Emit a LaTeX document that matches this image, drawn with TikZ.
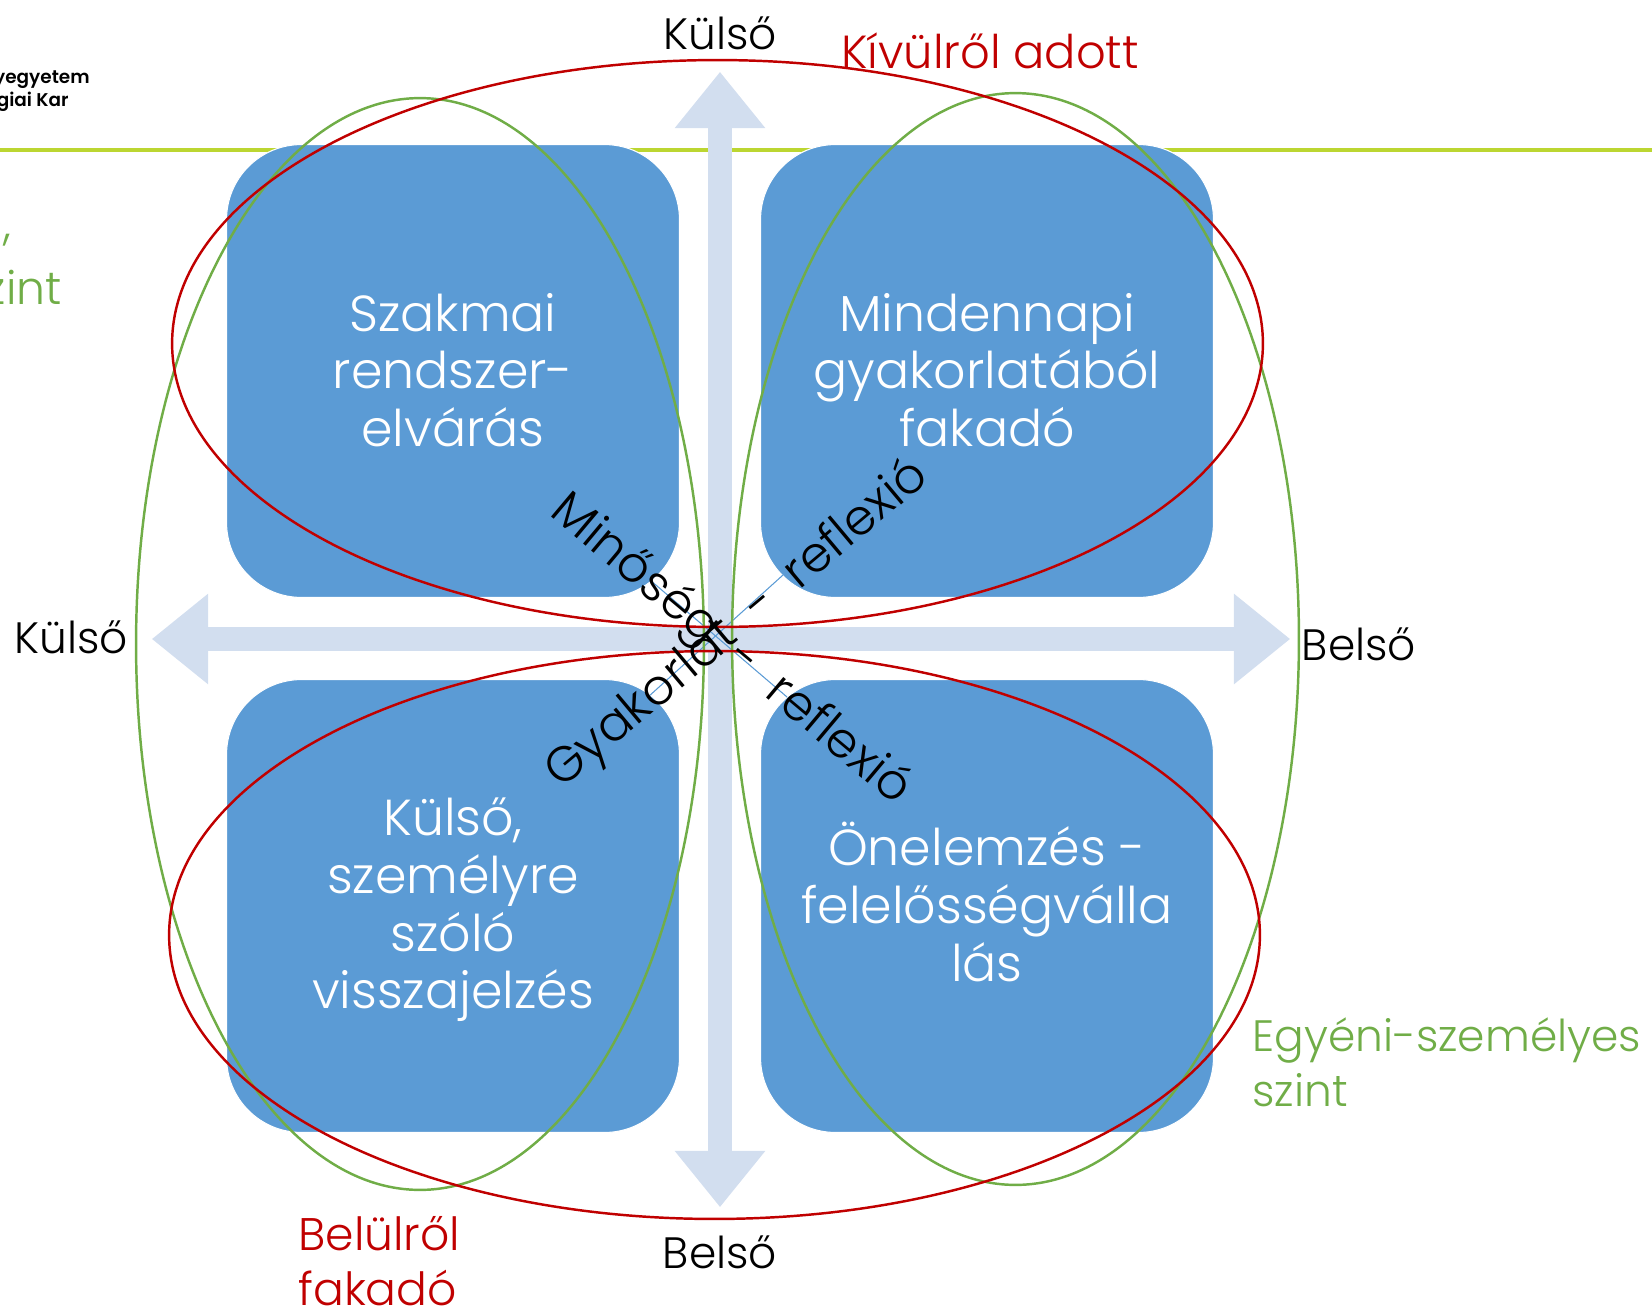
\documentclass[tikz,border=0pt]{standalone}
\usepackage{fontspec}
\setmainfont{Poppins Light}
\newfontfamily\logofont{Poppins SemiBold}
\usepackage{xcolor}
\usetikzlibrary{shapes.geometric, shapes.arrows}
\definecolor{boxblue}{HTML}{5B9BD5}
\definecolor{axisblue}{HTML}{D2DEEF}
\definecolor{darkred}{HTML}{C00000}
\definecolor{leafgreen}{HTML}{70AD47}
\definecolor{limeline}{HTML}{BCD631}
\tikzset{
  quadbox/.style={rectangle, rounded corners=1.5cm, fill=boxblue, draw=white, line width=0.6pt, minimum size=9.06cm, inner sep=0pt},
  boxtext/.style={align=center, text=white, inner sep=0pt, font=\fontsize{28.8}{32.8}\selectfont},
  axisarrow/.style={double arrow, fill=axisblue, inner xsep=0pt, inner ysep=0.23cm, minimum width=1.8cm, double arrow head extend=0.67cm, double arrow tip angle=78},
  redring/.style={ellipse, draw=darkred, line width=1.4pt, inner sep=0pt},
  greenring/.style={ellipse, draw=leafgreen, line width=1.4pt, inner sep=0pt},
  sidelabel/.style={font=\fontsize{25}{30}\selectfont, inner sep=0pt},
  ringlabel/.style={font=\fontsize{26}{31.5}\selectfont, inner sep=0pt, align=left},
  slanted/.style={font=\fontsize{28}{32}\selectfont, inner sep=0pt},
  logotext/.style={font=\logofont\fontsize{10.5}{12}\selectfont, inner sep=0pt, anchor=east},
}
\begin{document}
\begin{tikzpicture}[x=0.02cm, y=-0.02cm]
    \useasboundingbox (0, 0) rectangle (1652, 1311);

    \coordinate (headleft) at (0, 150);
    \coordinate (headright) at (1652, 150);
    \draw[limeline, line width=2pt] (headleft) -- (headright);

    \node[logotext] (logo1) at (90, 80) {yegyetem};
    \node[logotext] (logo2) at (69, 102) {giai Kar};

    \node[axisarrow, minimum height=22.7cm, rotate=90] (vaxis) at (720, 639.5) {};
    \node[axisarrow, minimum height=22.76cm] (haxis) at (721, 639) {};

    \node[quadbox] (topleft) at (453, 371) {};
    \node[quadbox] (topright) at (987, 371) {};
    \node[quadbox] (bottomleft) at (453, 906) {};
    \node[quadbox] (bottomright) at (987, 906) {};

    \node[boxtext] (topleftlabel) at (453, 370) {Szakmai\\rendszer-\\elvárás};
    \node[boxtext] (toprightlabel) at (987, 370) {Mindennapi\\gyakorlatából\\fakadó};
    \node[boxtext] (bottomleftlabel) at (453, 910) {Külső,\\személyre\\szóló\\visszajelzés};
    \node[boxtext] (bottomrightlabel) at (987, 902) {Önelemzés -\\felelősségválla\\lás};

    \coordinate (linkA) at (783, 575);
    \coordinate (linkB) at (648, 697);
    \coordinate (linkC) at (650, 580);
    \coordinate (linkD) at (787, 697);
    \draw[boxblue, line width=0.6pt] (linkA) -- (linkB);
    \draw[boxblue, line width=0.6pt] (linkC) -- (linkD);

    \node[greenring, minimum width=11.36cm, minimum height=21.84cm] (leftring) at (420, 644) {};
    \node[greenring, minimum width=11.34cm, minimum height=21.84cm] (rightring) at (1015.5, 639) {};
    \node[redring, minimum width=21.82cm, minimum height=11.34cm] (topring) at (717.5, 343.5) {};
    \node[redring, minimum width=21.82cm, minimum height=11.36cm] (bottomring) at (714.5, 935) {};

    \node[slanted, rotate=40] (practice) at (738, 625) {Gyakorlat\hspace{0.25em} - \hspace{0.25em}reflexió};
    \node[slanted, rotate=-40] (quality) at (730, 651) {Minőség\hspace{0.25em} - \hspace{0.25em}reflexió};

    \node[sidelabel] (outertop) at (720, 33) {Külső};
    \node[sidelabel] (outerleft) at (71, 637) {Külső};
    \node[sidelabel] (innerright) at (1359, 644) {Belső};
    \node[sidelabel] (innerbottom) at (720, 1252) {Belső};
    \node[ringlabel, font=\fontsize{26.4}{31.5}\selectfont, text=darkred, anchor=west] (givenlabel) at (841, 51) {Kívülről adott};
    \node[ringlabel, text=darkred, anchor=west] (fromwithin) at (298, 1261) {Belülről\\fakadó};
    \node[ringlabel, font=\fontsize{25}{31.5}\selectfont, text=leafgreen, anchor=west] (personal) at (1252, 1062) {Egyéni-személyes\\szint};
    \node[ringlabel, text=leafgreen, anchor=east] (commamark) at (12, 240) {,};
    \node[ringlabel, text=leafgreen, anchor=east] (cutlevel) at (62, 288) {szint};
\end{tikzpicture}
\end{document}
